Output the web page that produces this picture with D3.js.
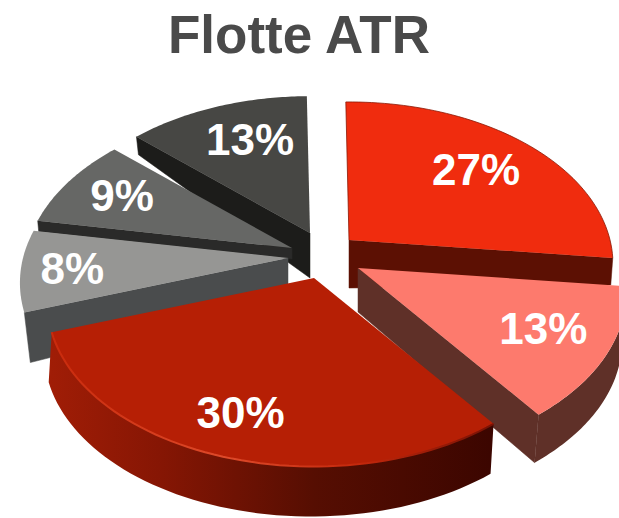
<!DOCTYPE html>
<html>
<head>
<meta charset="utf-8">
<script src="https://cdn.jsdelivr.net/npm/d3@7"></script>
<style>
  html, body { margin: 0; padding: 0; background: #fff; overflow: hidden; }
  svg { display: block; }
</style>
</head>
<body>
<svg id="chart"></svg>
<script>
const titleText = "Flotte ATR";
const categories = ["A", "B", "C", "D", "E", "F"];
const values = [27, 13, 30, 8, 9, 13];
const valueLabels = ["27%", "13%", "30%", "8%", "9%", "13%"];

// look of each slice, same order as values
const topColors = ["#f02c0e", "#fd7a6d", "#b61f05", "#969694", "#666765", "#474744"];
const wallColors = ["#5c1003", "#5f3028", "url(#frontWall)", "#4a4c4d", "#2a2a29", "#1c1c1a"];
const apexX = [349, 358, 314, 288, 292, 310];
const apexY = [240, 268, 278, 258, 248, 233];
const sliceScale = [0.985, 1, 0.995, 1, 1, 0.975];
const depthApex = [48, 44, 47, 40, 11, 45];
const depthRim = [27, 48, 50, 50, 11, 18];
const leanRim = [-2, -4, -3, 6, 1, 2];
const wallEdge = ["end", "end", null, "start", "start", "start"];
const wallArc = [false, true, true, false, false, false];
const labelRadius = [0.65, 0.76, 0.78, 0.82, 0.75, 0.68];
const labelNudgeX = [9, 0, -5, 3, 0, 6];
const labelNudgeY = [-6, -4, 0, 0, -2, -5];
const drawOrder = [5, 4, 3, 0, 1, 2];

const width = 619, height = 518;
const radiusX = 265, radiusY = 161, perspective = 0.151;
const rotation = -0.014;

const svg = d3.select("#chart").attr("width", width).attr("height", height);

const defs = svg.append("defs");
const frontGrad = defs.append("linearGradient")
    .attr("id", "frontWall")
    .attr("gradientUnits", "userSpaceOnUse")
    .attr("x1", 50).attr("x2", 490).attr("y1", 0).attr("y2", 0);
frontGrad.append("stop").attr("offset", 0).attr("stop-color", "#a01d06");
frontGrad.append("stop").attr("offset", 0.25).attr("stop-color", "#861604");
frontGrad.append("stop").attr("offset", 0.6).attr("stop-color", "#560e02");
frontGrad.append("stop").attr("offset", 1).attr("stop-color", "#3c0600");

const rimGrad = defs.append("linearGradient")
    .attr("id", "frontRim")
    .attr("gradientUnits", "userSpaceOnUse")
    .attr("x1", 50).attr("x2", 490).attr("y1", 0).attr("y2", 0);
rimGrad.append("stop").attr("offset", 0).attr("stop-color", "#c92a0c");
rimGrad.append("stop").attr("offset", 0.4).attr("stop-color", "#de4a2a");
rimGrad.append("stop").attr("offset", 0.7).attr("stop-color", "#c4280c");
rimGrad.append("stop").attr("offset", 1).attr("stop-color", "#7a1204");

const slices = d3.pie().sort(null)
    .startAngle(rotation)
    .endAngle(2 * Math.PI + rotation)(values);

const line = d3.line().x(d => d[0]).y(d => d[1]);

// point on the tilted disc, r = 0..1 from the apex of slice i
function project(i, angle, r) {
    const u = r * sliceScale[i] * Math.sin(angle);
    const v = -r * sliceScale[i] * Math.cos(angle);
    const s = 1 / (1 - perspective * v);
    return [apexX[i] + radiusX * u * s, apexY[i] + radiusY * v * s];
}

// same point on the underside
function lower(i, angle, r) {
    const p = project(i, angle, r);
    return [p[0] + leanRim[i] * r, p[1] + depthApex[i] + (depthRim[i] - depthApex[i]) * r];
}

function arcAngles(a0, a1) {
    const n = 60;
    return d3.range(n + 1).map(k => a0 + (a1 - a0) * k / n);
}

function drawSlice(i) {
    const d = slices[i];
    const angles = arcAngles(d.startAngle, d.endAngle);
    const g = svg.append("g").attr("class", "slice").attr("data-cat", categories[i]);

    if (wallEdge[i]) {
        const a = wallEdge[i] === "start" ? d.startAngle : d.endAngle;
        g.append("path")
            .attr("d", line([project(i, a, 0), project(i, a, 1), lower(i, a, 1), lower(i, a, 0)]) + "Z")
            .attr("fill", wallColors[i])
            .attr("stroke", wallColors[i])
            .attr("stroke-width", 0.5);
    }
    if (wallArc[i]) {
        const top = angles.map(a => project(i, a, 1));
        const bottom = angles.map(a => lower(i, a, 1)).reverse();
        g.append("path")
            .attr("d", line(top.concat(bottom)) + "Z")
            .attr("fill", wallColors[i]);
    }

    const outline = [project(i, 0, 0)].concat(angles.map(a => project(i, a, 1)));
    g.append("path")
        .attr("d", line(outline) + "Z")
        .attr("fill", topColors[i]);

    // thin dark edge round the far red slice
    if (i === 0) {
        g.append("path")
            .attr("d", line(outline))
            .attr("fill", "none")
            .attr("stroke", "#8a1805")
            .attr("stroke-width", 0.8);
    }
}

function drawBevel() {
    // light bevel on the big front slice
    const front = slices[2];
    const bevel = arcAngles(front.startAngle, front.endAngle).map(a => project(2, a, 1));
    svg.append("path")
        .attr("d", line(bevel))
        .attr("fill", "none")
        .attr("stroke", "url(#frontRim)")
        .attr("stroke-width", 2);
}

drawOrder.forEach(drawSlice);
drawBevel();

function labelPos(d, i) {
    const p = project(i, (d.startAngle + d.endAngle) / 2, labelRadius[i]);
    return [p[0] + labelNudgeX[i], p[1] + labelNudgeY[i]];
}

svg.append("g").selectAll("text")
    .data(slices)
    .join("text")
    .attr("x", (d, i) => labelPos(d, i)[0])
    .attr("y", (d, i) => labelPos(d, i)[1])
    .attr("dy", "0.36em")
    .attr("text-anchor", "middle")
    .attr("font-family", "'Liberation Sans', Arial, sans-serif")
    .attr("font-weight", "bold")
    .attr("font-size", 44)
    .attr("fill", "#fff")
    .text((d, i) => valueLabels[i]);

svg.append("text")
    .attr("x", 299)
    .attr("y", 53)
    .attr("text-anchor", "middle")
    .attr("font-family", "'Liberation Sans', Arial, sans-serif")
    .attr("font-weight", "bold")
    .attr("font-size", 53)
    .attr("fill", "#4a4a4a")
    .text(titleText);
</script>
</body>
</html>
